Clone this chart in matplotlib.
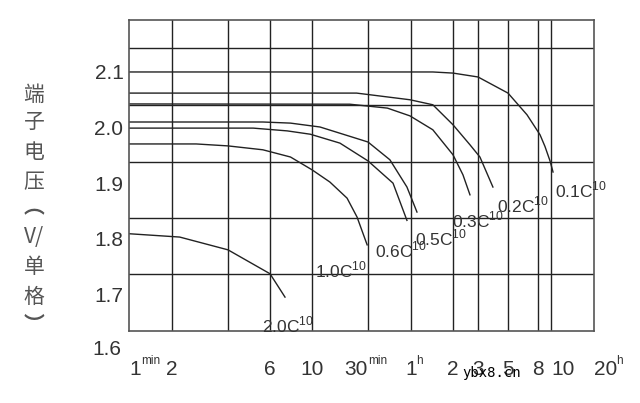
import numpy as np
import matplotlib
matplotlib.use("Agg")
import matplotlib.pyplot as plt

plt.rcParams['font.family'] = ['Liberation Sans', 'DejaVu Sans']
plt.rcParams['mathtext.fontset'] = 'custom'
plt.rcParams['mathtext.rm'] = 'Liberation Sans'

# discharge time axis of the original chart (minutes) and where its grid lines sit
AXIS_T = [1, 2, 4, 6, 10, 30, 60, 120, 180, 300, 480, 600, 1200]
AXIS_P = [0, 43, 99, 141, 183, 239, 282, 324, 349, 379, 409, 422, 465]

# tick labels (minutes) and the small unit written after some of them
xtick_t = [1, 2, 6, 10, 30, 60, 120, 180, 300, 480, 600, 1200]
xtick_lab = ['1', '2', '6', '10', '30', '1', '2', '3', '5', '8', '10', '20']
xtick_unit = ['min', '', '', '', 'min', 'h', '', '', '', '', '', 'h']
ytick_v = [1.7, 1.8, 1.9, 2.0, 2.1]
hgrid_v = [1.737, 1.837, 1.938, 2.041, 2.143]

# discharge curves: time (min), terminal voltage (V/cell)
t_01 = [1, 86, 120, 180, 300, 404, 497, 541, 590, 620]
v_01 = [2.100, 2.100, 2.098, 2.091, 2.062, 2.023, 1.987, 1.966, 1.940, 1.920]
t_02 = [1, 24, 59, 86, 120, 158, 186, 232]
v_02 = [2.062, 2.062, 2.050, 2.041, 2.005, 1.969, 1.947, 1.893]
t_03 = [1, 21, 41, 59, 86, 120, 141, 158]
v_03 = [2.0425, 2.042, 2.035, 2.021, 1.996, 1.951, 1.915, 1.879]
t_05 = [1, 5.6, 7.7, 11.7, 30, 42.7, 56.2, 66.2]
v_05 = [2.010, 2.010, 2.008, 2.001, 1.974, 1.942, 1.893, 1.848]
t_06 = [1, 5.1, 7.4, 9.8, 17.3, 30, 44.9, 56.2]
v_06 = [1.999, 1.999, 1.994, 1.988, 1.972, 1.940, 1.900, 1.833]
t_10 = [1, 2.7, 4, 5.6, 7.7, 10, 14.2, 19.9, 24.2, 29.5]
v_10 = [1.9705, 1.9705, 1.967, 1.960, 1.947, 1.924, 1.902, 1.873, 1.839, 1.789]
t_20 = [1, 2.2, 4, 6, 7.2]
v_20 = [1.809, 1.803, 1.780, 1.737, 1.695]

curves = [
    (t_01, v_01, '0.1C', (2, -18)),
    (t_02, v_02, '0.2C', (4, -18)),
    (t_03, v_03, '0.3C', (-18, -25)),
    (t_05, v_05, '0.5C', (-2, -26)),
    (t_06, v_06, '0.6C', (-32, -30)),
    (t_10, v_10, '1.0C', (-52, -25)),
    (t_20, v_20, '2.0C', (-23, -28)),
]

LOG_T = np.log10(AXIS_T)


def fwd(t):
    return np.interp(np.log10(np.clip(t, 1e-9, None)), LOG_T, AXIS_P)


def inv(p):
    return 10 ** np.interp(p, AXIS_P, LOG_T)


fig = plt.figure(figsize=(6.4, 4.03), dpi=100)
ax = fig.add_axes([129 / 640, 1 - 331 / 403, 465 / 640, 311 / 403])
ax.set_xscale('function', functions=(fwd, inv))
ax.set_xlim(1, 1200)
ax.set_ylim(1.634, 2.1935)

ink = '#222222'
for t in AXIS_T[1:-1]:
    ax.axvline(t, color=ink, lw=1.0, zorder=1)
for v in hgrid_v:
    ax.axhline(v, color=ink, lw=1.0, zorder=1)
for s in ax.spines.values():
    s.set_color('#555555')
    s.set_linewidth(1.2)

for t, v, name, off in curves:
    ax.plot(t, v, color=ink, lw=1.0, zorder=2)
    ax.annotate(name + r'$^{\mathrm{10}}$', xy=(t[-1], v[-1]), xytext=off,
                textcoords='offset pixels', ha='left', va='center',
                fontsize=12.5, color='#333333')

ax.set_xticks(xtick_t)
ax.set_xticklabels(xtick_lab)
ax.xaxis.set_minor_locator(matplotlib.ticker.NullLocator())
ax.set_yticks(ytick_v)
ax.set_yticklabels([f'{v:.1f}' for v in ytick_v])
ax.tick_params(axis='x', length=0, pad=21, labelsize=15, labelcolor='#333333')
ax.tick_params(axis='y', length=0, pad=4, labelsize=15, labelcolor='#333333')

xtr = ax.get_xaxis_transform()
for lbl, t, unit in zip(ax.get_xticklabels(), xtick_t, xtick_unit):
    if t in (1, 600):
        lbl.set_ha('left')
    elif t == 1200:
        lbl.set_ha('left')
        lbl.set_x(t)
    elif t == 30:
        lbl.set_ha('right')
    if unit:
        w = {1: 12, 30: 0, 60: 5, 1200: 20}[t]
        if t == 1200:
            w = 22
        ax.annotate(unit, xy=(t, 0), xycoords=xtr, xytext=(w, -30),
                    textcoords='offset pixels', ha='left', va='center',
                    fontsize=8.5, color='#333333', annotation_clip=False)

# the 1.6 label sits below the plotting area in the original
ax.annotate('1.6', xy=(0, 1.6), xycoords=ax.get_yaxis_transform(),
            xytext=(-8, 0), textcoords='offset pixels', ha='right', va='center',
            fontsize=15, color='#333333', annotation_clip=False)

ylab = ['端', '子', '电', '压', '︵', 'V/', '单', '格', '︶']
ylab_y = [95, 122, 152, 182, 207, 237, 267, 297, 325]
for ch, y in zip(ylab, ylab_y):
    fig.text(34 / 640, 1 - y / 403, ch, ha='center', va='center', fontsize=15,
             color='#555555', family=['Noto Sans CJK SC', 'DejaVu Sans'],
             fontweight='bold' if ch in '︵︶' else 'normal')

fig.text(492 / 640, 1 - 373 / 403, 'ybx8.cn', ha='center', va='center',
         fontsize=10, family='DejaVu Sans Mono', color='black')

fig.savefig('out.png', dpi=100)
